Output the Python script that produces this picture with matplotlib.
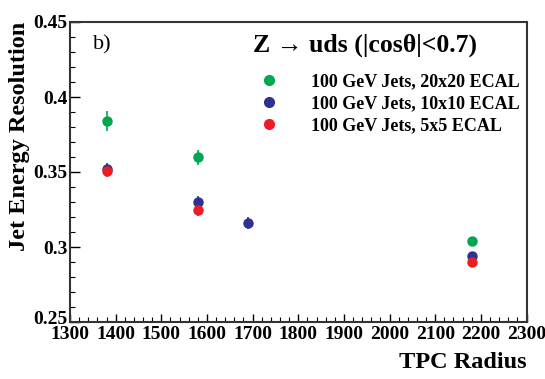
import matplotlib.pyplot as plt
import matplotlib.transforms as mtransforms
from matplotlib.ticker import MultipleLocator
from matplotlib.lines import Line2D

# data
radius_20 = [1380, 1580, 2180]
res_20 = [0.384, 0.360, 0.304]
err_20 = [0.0065, 0.005, 0.003]

radius_10 = [1380, 1580, 1690, 2180]
res_10 = [0.352, 0.330, 0.316, 0.294]
err_10 = [0.004, 0.004, 0.004, 0.003]

radius_5 = [1380, 1580, 2180]
res_5 = [0.3505, 0.325, 0.290]
err_5 = [0.004, 0.004, 0.003]

labels = ['100 GeV Jets, 20x20 ECAL', '100 GeV Jets, 10x10 ECAL', '100 GeV Jets, 5x5 ECAL']
colors = ['#00a651', '#2e3192', '#ed1c24']

plt.rcParams['font.family'] = ['Liberation Serif', 'DejaVu Serif']
plt.rcParams['font.weight'] = 'bold'

fig = plt.figure(figsize=(5.45, 3.79), dpi=100)
ax = fig.add_axes([70 / 545, 1 - 322 / 379, 456.5 / 545, 300 / 379])

for xs, ys, es, c in zip([radius_20, radius_10, radius_5], [res_20, res_10, res_5],
                         [err_20, err_10, err_5], colors):
    ax.errorbar(xs, ys, yerr=es, fmt='o', color=c, ms=6.5, elinewidth=1.2, capsize=0)

ax.set_xlim(1300, 2300)
ax.set_ylim(0.25, 0.45)
ax.xaxis.set_major_locator(MultipleLocator(100))
ax.xaxis.set_minor_locator(MultipleLocator(20))
ax.yaxis.set_minor_locator(MultipleLocator(0.01))
ax.set_yticks([0.25, 0.3, 0.35, 0.4, 0.45])
ax.set_yticklabels(['0.25', '0.3', '0.35', '0.4', '0.45'])
ax.tick_params(which='major', direction='in', length=7, width=1, labelsize=14, pad=2)
ax.tick_params(which='minor', direction='in', length=3.5, width=0.8)
ax.tick_params(axis='x', which='major', length=6, pad=3)
for s in ax.spines.values():
    s.set_linewidth(1.5)
    s.set_color('#333333')

# lift the bottom y label a little so it clears "1300"
lab0 = ax.get_yticklabels()[0]
lab0.set_transform(lab0.get_transform() + mtransforms.ScaledTranslation(0, 5 / 100, fig.dpi_scale_trans))

fig.text(20 / 545, 1 - 22 / 379, 'Jet Energy Resolution', rotation=90, ha='center', va='top',
         fontsize=17.5, fontweight='bold')
fig.text(527 / 545, 1 - 362 / 379, 'TPC Radius', ha='right', va='center', fontsize=17.5,
         fontweight='bold')
fig.text(93 / 545, 1 - 45 / 379, 'b)', ha='left', va='center', fontsize=16, fontweight='normal')
fig.text(253 / 545, 1 - 45 / 379, 'Z \u2192 uds (|cos\u03b8|<0.7)', ha='left', va='center',
         fontsize=18.5, fontweight='bold')

handles = [Line2D([], [], marker='o', ls='none', color=c, ms=7) for c in colors]
ax.legend(handles, labels, loc='upper left', bbox_to_anchor=(262 / 545, 1 - 73 / 379),
          bbox_transform=fig.transFigure, frameon=False, fontsize=13, handlelength=0.8,
          handletextpad=1.9, labelspacing=0.28, borderpad=0, borderaxespad=0)

fig.savefig('out.png', dpi=100)
